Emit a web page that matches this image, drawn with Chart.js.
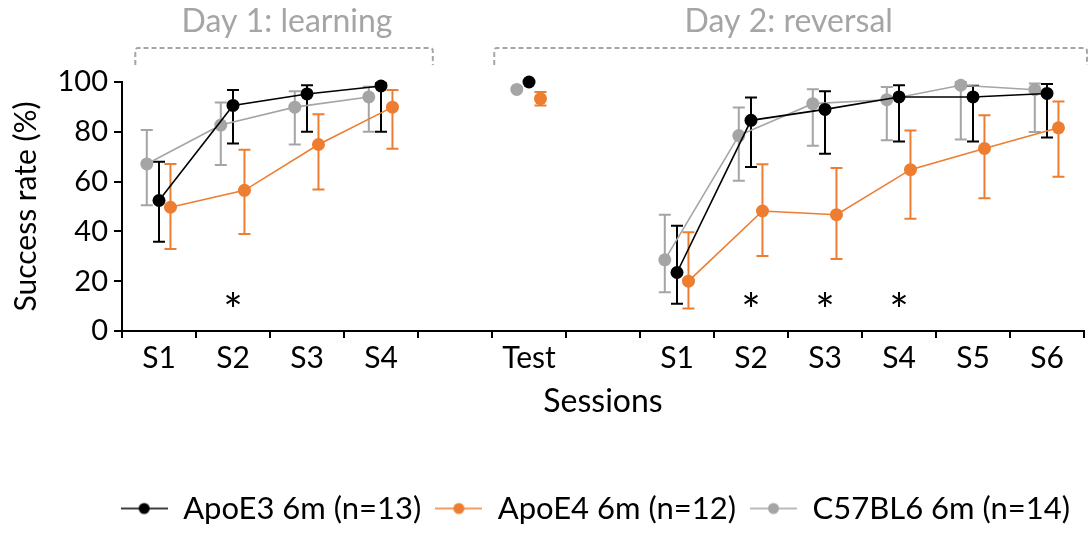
<!DOCTYPE html>
<html>
<head>
<meta charset="utf-8">
<script src="https://cdn.jsdelivr.net/npm/chart.js@4.4.0/dist/chart.umd.min.js"></script>
<style>
  html, body { margin: 0; padding: 0; background: #fff; }
  #wrap { width: 1091px; height: 534px; }
</style>
</head>
<body>
<div id="wrap"><canvas id="sessionsChart" width="1091" height="534"></canvas></div>
<script>
// x categories (blank slots are the gaps around Test)
const xCategories = ['S1', 'S2', 'S3', 'S4', '', 'Test', '', 'S1', 'S2', 'S3', 'S4', 'S5', 'S6'];
// which category each measurement sits in
const pointSlots = [0, 1, 2, 3, 5, 7, 8, 9, 10, 11, 12];
const yTicks = [0, 20, 40, 60, 80, 100];

const apoE3Mean = [52.4, 90.6, 95.2, 98.4, 100, 23.5, 84.6, 89.0, 94.0, 94.0, 95.4];
const apoE3High = [68.0, 96.8, 98.7, 99.5, 100, 42.3, 93.8, 96.3, 98.7, 98.5, 99.2];
const apoE3Low  = [35.8, 75.3, 80.0, 80.0, 100, 10.9, 65.9, 71.2, 76.1, 76.1, 77.7];

const apoE4Mean = [49.7, 56.5, 74.9, 89.9, 93.3, 20.0, 48.2, 46.7, 64.8, 73.3, 81.6];
const apoE4High = [67.1, 72.8, 87.0, 96.8, 96.0, 39.7, 67.0, 65.5, 80.5, 86.6, 92.2];
const apoE4Low  = [32.9, 39.0, 56.8, 73.2, 90.6, 9.0, 30.1, 28.9, 45.1, 53.3, 61.9];

const c57Mean = [67.1, 82.7, 89.9, 94.0, 97.0, 28.6, 78.5, 91.3, 92.9, 98.7, 96.9];
const c57High = [80.7, 91.8, 96.3, 98.1, 97.0, 46.7, 89.8, 97.1, 98.0, 100, 99.4];
const c57Low  = [50.5, 66.7, 74.9, 80.0, 97.0, 15.6, 60.3, 74.4, 76.6, 76.9, 79.9];

// significance stars
const starSlots = [1, 8, 9, 10];
const starValue = 12.2;

const FONT = 'Lato';

// builds {x,y} points, inserting a null where sessions are not adjacent so the line breaks
function buildPoints(means, lows, highs, shift) {
  const data = [], lo = [], hi = [];
  pointSlots.forEach((slot, i) => {
    if (i > 0 && slot - pointSlots[i - 1] > 1) {
      data.push({x: slot - 0.5, y: null}); lo.push(null); hi.push(null);
    }
    data.push({x: slot + 0.5 + shift, y: means[i]});
    lo.push(lows[i]); hi.push(highs[i]);
  });
  return {data, lo, hi};
}

function makeSeries(label, color, means, lows, highs, shift) {
  const p = buildPoints(means, lows, highs, shift);
  return {
    label,
    data: p.data,
    errLow: p.lo,
    errHigh: p.hi,
    borderColor: color,
    backgroundColor: color,
    pointBackgroundColor: color,
    pointBorderColor: color,
    pointRadius: 6.5,
    pointBorderWidth: 0,
    borderWidth: 1.6,
    clip: false,
    spanGaps: false,
  };
}

function legendIcon(color) {
  const c = document.createElement('canvas');
  c.width = 47; c.height = 14;
  const g = c.getContext('2d');
  g.strokeStyle = color; g.lineWidth = 1.5;
  g.beginPath(); g.moveTo(0, 7); g.lineTo(47, 7); g.stroke();
  g.fillStyle = color;
  g.beginPath(); g.arc(23.5, 7, 5.5, 0, Math.PI * 2); g.fill();
  return c;
}

const errorBars = {
  id: 'errorBars',
  beforeDatasetsDraw(chart) {
    const ctx = chart.ctx, y = chart.scales.y;
    chart.data.datasets.forEach((ds, di) => {
      const meta = chart.getDatasetMeta(di);
      ctx.save();
      ctx.strokeStyle = ds.borderColor;
      ctx.lineWidth = 2;
      meta.data.forEach((pt, i) => {
        const lo = ds.errLow[i], hi = ds.errHigh[i];
        if (lo == null || hi == null || lo === hi) return;
        const yl = y.getPixelForValue(lo), yh = y.getPixelForValue(hi);
        ctx.beginPath();
        ctx.moveTo(pt.x, yl); ctx.lineTo(pt.x, yh);
        ctx.moveTo(pt.x - 6, yl); ctx.lineTo(pt.x + 6, yl);
        ctx.moveTo(pt.x - 6, yh); ctx.lineTo(pt.x + 6, yh);
        ctx.stroke();
      });
      ctx.restore();
    });
  }
};

const annotations = {
  id: 'annotations',
  afterDraw(chart) {
    const ctx = chart.ctx, x = chart.scales.x, y = chart.scales.y;
    ctx.save();
    // stars
    ctx.fillStyle = '#000';
    ctx.font = '46px ' + FONT;
    ctx.textAlign = 'center';
    ctx.textBaseline = 'alphabetic';
    starSlots.forEach(s => {
      ctx.fillText('*', x.getPixelForValue(s + 0.5), y.getPixelForValue(starValue) + 26);
    });
    // day brackets
    const groups = [
      {text: 'Day 1: learning', from: 0.18, to: 4.2, mid: 2.23},
      {text: 'Day 2: reversal', from: 5.03, to: 13.04, mid: 9.01},
    ];
    ctx.strokeStyle = '#A5A5A5';
    ctx.lineWidth = 2;
    ctx.setLineDash([5, 3]);
    ctx.lineJoin = 'round';
    groups.forEach(g => {
      const x0 = x.getPixelForValue(g.from), x1 = x.getPixelForValue(g.to);
      const top = 48, bot = 65;
      ctx.beginPath();
      ctx.moveTo(x0, bot); ctx.lineTo(x0, top + 3);
      ctx.quadraticCurveTo(x0, top, x0 + 3, top);
      ctx.lineTo(x1 - 3, top);
      ctx.quadraticCurveTo(x1, top, x1, top + 3);
      ctx.lineTo(x1, bot);
      ctx.stroke();
    });
    ctx.setLineDash([]);
    ctx.fillStyle = '#A5A5A5';
    ctx.font = '32px ' + FONT;
    groups.forEach(g => {
      ctx.fillText(g.text, x.getPixelForValue(g.mid), 32);
    });
    ctx.restore();
  }
};

new Chart(document.getElementById('sessionsChart').getContext('2d'), {
  type: 'line',
  data: {
    datasets: [
      makeSeries('ApoE3 6m (n=13)', '#000000', apoE3Mean, apoE3Low, apoE3High, 0),
      makeSeries('ApoE4 6m (n=12)', '#ED7D31', apoE4Mean, apoE4Low, apoE4High, 0.155),
      makeSeries('C57BL6 6m (n=14)', '#A5A5A5', c57Mean, c57Low, c57High, -0.165),
    ]
  },
  options: {
    responsive: false,
    animation: false,
    layout: {padding: {top: 82, right: 7, left: 0, bottom: 0}},
    scales: {
      x: {
        type: 'linear',
        min: 0,
        max: 13,
        afterFit: s => { s.height = 148; },
        ticks: {
          stepSize: 0.5,
          autoSkip: false,
          maxRotation: 0,
          padding: 2,
          color: '#000',
          font: {family: FONT, size: 30},
          callback: v => (v % 1 === 0.5 ? xCategories[Math.floor(v)] : ''),
        },
        grid: {
          drawOnChartArea: false,
          tickLength: 7,
          lineWidth: 2,
          color: ctx => (ctx.tick && ctx.tick.value % 1 === 0 ? '#000' : 'rgba(0,0,0,0)'),
        },
        border: {color: '#000', width: 2},
        title: {
          display: true,
          text: 'Sessions',
          color: '#000',
          font: {family: FONT, size: 32},
          padding: {top: 0, bottom: 58},
        },
      },
      y: {
        min: 0,
        max: 100,
        afterFit: s => { s.width = 122; },
        afterBuildTicks: s => { s.ticks = yTicks.map(v => ({value: v})); },
        ticks: {
          padding: 6,
          color: '#000',
          font: {family: FONT, size: 29},
        },
        grid: {drawOnChartArea: false, tickLength: 8, lineWidth: 2, color: '#000'},
        border: {color: '#000', width: 2},
        title: {
          display: true,
          text: 'Success rate (%)',
          color: '#000',
          font: {family: FONT, size: 30},
          padding: {top: 8, bottom: 0},
        },
      },
    },
    plugins: {
      tooltip: {enabled: false},
      legend: {
        position: 'bottom',
        align: 'end',
        labels: {
          usePointStyle: true,
          pointStyleWidth: 47,
          padding: 14,
          color: '#000',
          font: {family: FONT, size: 31},
          generateLabels: chart => chart.data.datasets.map((ds, i) => ({
            text: ds.label,
            pointStyle: legendIcon(ds.borderColor),
            fillStyle: ds.borderColor,
            strokeStyle: ds.borderColor,
            fontColor: '#000',
            lineWidth: 0,
            hidden: false,
            datasetIndex: i,
          })),
        },
      },
    },
  },
  plugins: [errorBars, annotations],
});
</script>
</body>
</html>
